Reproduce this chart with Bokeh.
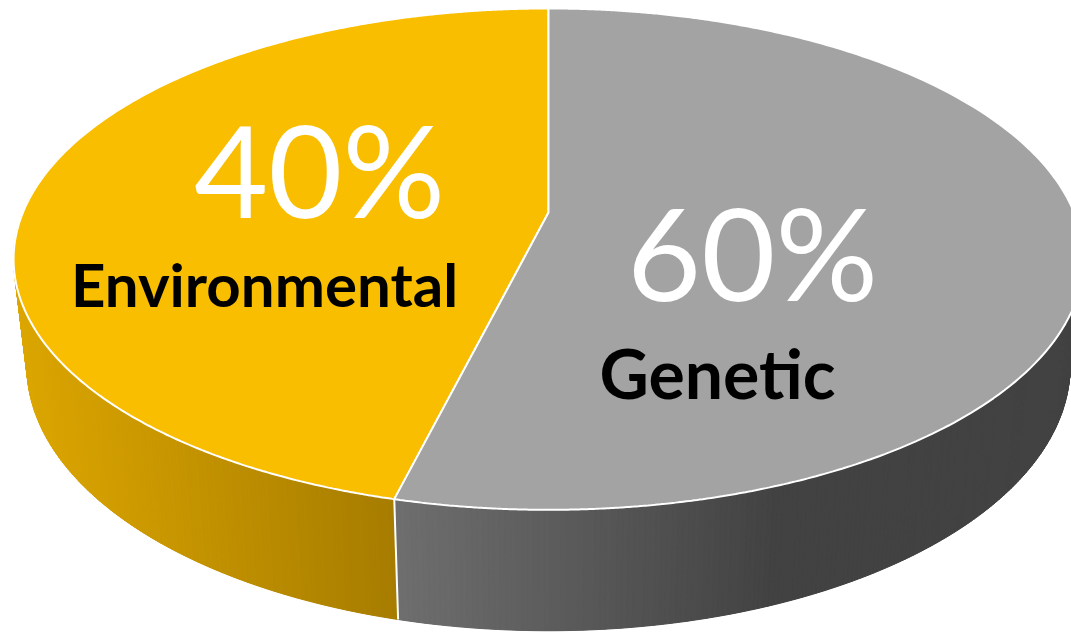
import numpy as np
from bokeh.plotting import figure
from bokeh.models import Range1d
from bokeh.embed import file_html
from bokeh.resources import INLINE
from bokeh.core.properties import value

# ---- data ----
categories = ["Environmental", "Genetic"]
shares = [40, 60]
pct_labels = [f"{s}%" for s in shares]

# ---- style ----
top_colors = ["#F9BE00", "#A3A3A3"]
side_from = [(220, 166, 0), (110, 110, 110)]
side_to = [(166, 124, 0), (66, 66, 66)]
grad_span = [(20, 398), (398, 780)]
pct_pos = [(319, 168), (752, 251)]
name_pos = [(264, 283), (717, 372)]
name_size = ["60px", "68px"]

# projection of the 3D disk
X0, Y0 = 548.0, 212.0
A, B, K = 525.6, 242.0, 0.186
T = 104.5      # thickness factor
M = 0.975      # bottom face shrink (perspective)
R = 0.341
START = 90.0


def param_from_phi(phi_deg):
    ph = np.radians(phi_deg)
    c = np.cos(ph)
    s = np.sin(ph) / R
    n = np.hypot(c, s)
    return c / n, s / n


def proj(c, s, bottom=False):
    w = 1 + K * s
    if bottom:
        return X0 + M * A * c / w, Y0 - M * B * s / w + T / w
    return X0 + A * c / w, Y0 - B * s / w


def t_of_phi(phi):
    c, s = param_from_phi(phi)
    t = np.degrees(np.arctan2(s, c))
    d = (t - phi + 180.0) % 360.0 - 180.0
    return phi + d


cum = np.concatenate([[0], np.cumsum(shares)]) / sum(shares)
phis = START + 360.0 * cum
tb = [t_of_phi(p) for p in phis]

p = figure(width=1071, height=632, x_range=Range1d(0, 1071), y_range=Range1d(632, 0),
           output_backend="svg", toolbar_location=None,
           x_axis_location=None, y_axis_location=None,
           min_border=0, min_border_left=0, min_border_right=0,
           min_border_top=0, min_border_bottom=0)
p.grid.visible = False
p.outline_line_color = None
p.background_fill_color = "white"
p.border_fill_color = "white"

t_left, t_right = 180.0, 360.0


def hexcol(rgb):
    return "#%02x%02x%02x" % tuple(int(round(v)) for v in rgb)


# ---- side walls ----
base_xs, base_ys, base_cols = [], [], []
xs, ys, cols = [], [], []
edges = []
for i in range(len(shares)):
    ta, tb_ = tb[i], tb[i + 1]
    cf, ct = side_from[i], side_to[i]
    g0, g1 = grad_span[i]
    for off in (0.0, 360.0):
        lo = max(ta, t_left + off)
        hi = min(tb_, t_right + off)
        if hi <= lo:
            continue
        n = max(2, int((hi - lo) / 0.5))
        ts = np.radians(np.linspace(lo, hi, n + 1))
        tx, ty = proj(np.cos(ts), np.sin(ts))
        bx, by = proj(np.cos(ts), np.sin(ts), True)
        base_xs.append(list(tx) + list(bx[::-1]))
        base_ys.append(list(ty) + list(by[::-1]))
        base_cols.append(hexcol([(cf[k] + ct[k]) / 2 for k in range(3)]))
        for j in range(n):
            xm = (tx[j] + tx[j + 1]) / 2
            u = min(1.0, max(0.0, (xm - g0) / (g1 - g0)))
            col = hexcol([cf[k] + (ct[k] - cf[k]) * u for k in range(3)])
            xs.append([tx[j], tx[j + 1], bx[j + 1], bx[j]])
            ys.append([ty[j], ty[j + 1], by[j + 1], by[j]])
            cols.append(col)
    for tt in (ta, tb_):
        if t_left < (tt % 360.0) < t_right:
            edges.append(tt)

p.patches(base_xs, base_ys, fill_color=base_cols, line_color=None)
p.patches(xs, ys, fill_color=cols, line_color=cols, line_width=1.0)

for tt in set(np.round(edges, 6)):
    tr = np.radians(tt)
    x1, y1 = proj(np.cos(tr), np.sin(tr))
    x2, y2 = proj(np.cos(tr), np.sin(tr), True)
    p.line([x1, x2], [y1, y2], line_color="white", line_width=2)

# ---- top faces ----
txs, tys = [], []
for i in range(len(shares)):
    ph = np.linspace(phis[i], phis[i + 1], 400)
    c, s = param_from_phi(ph)
    X, Y = proj(c, s)
    txs.append([X0] + list(X))
    tys.append([Y0] + list(Y))
p.patches(txs, tys, fill_color=top_colors, line_color="white", line_width=2)

# ---- labels ----
p.text(x=[q[0] for q in pct_pos], y=[q[1] for q in pct_pos], text=pct_labels,
       text_font=value("Lato"), text_font_size="128px", text_color="white",
       text_align="center", text_baseline="alphabetic")
for i in range(len(categories)):
    p.text(x=[name_pos[i][0]], y=[name_pos[i][1]], text=[categories[i]],
           text_font=value("Lato"), text_font_style="bold", text_font_size=name_size[i],
           text_color="black", text_align="center", text_baseline="alphabetic")

open("out.html", "w").write(file_html(p, INLINE))
